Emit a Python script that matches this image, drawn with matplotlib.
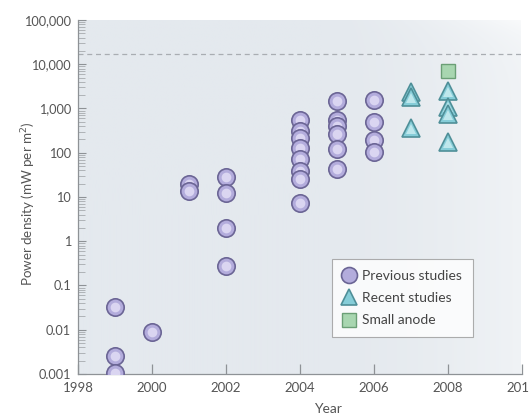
import numpy as np
import matplotlib.pyplot as plt
from matplotlib.ticker import FixedLocator, LogLocator, NullFormatter

plt.rcParams['font.family'] = ['Lato', 'DejaVu Sans']

# --- data ---
prev_years = [1999, 1999, 1999, 2000, 2001, 2001, 2002, 2002, 2002, 2002,
              2004, 2004, 2004, 2004, 2004, 2004, 2004, 2004,
              2005, 2005, 2005, 2005, 2005, 2005,
              2006, 2006, 2006, 2006]
prev_power = [0.033, 0.0026, 0.00105, 0.009, 20, 14, 29, 12.6, 2.0, 0.28,
              560, 316, 214, 131, 72, 38, 25, 7.5,
              1450, 560, 407, 264, 121, 43,
              1550, 485, 193, 102]

recent_years = [2007, 2007, 2007, 2008, 2008, 2008, 2008]
recent_power = [2300, 1780, 360, 2450, 1100, 750, 171]

anode_years = [2008]
anode_power = [6900]

limit_power = 17000

xticks = [1998, 2000, 2002, 2004, 2006, 2008, 2010]
yticks = [0.001, 0.01, 0.1, 1, 10, 100, 1000, 10000, 100000]
ytick_labels = ['0.001', '0.01', '0.1', '1', '10', '100', '1,000', '10,000', '100,000']

fig = plt.figure(figsize=(5.29, 4.18), dpi=100)
ax = fig.add_axes([0.1474, 0.1053, 0.8393, 0.8469])
ax.set_xlim(1998, 2010)
ax.set_yscale('log')
ax.set_ylim(0.001, 100000)

# soft panel background, brightening toward the right
nx, ny = 200, 100
gx = np.linspace(0, 1, nx)
gy = np.linspace(0, 1, ny)[:, None]
fade = np.clip((gx - 0.55) / 0.45, 0, 1) ** 1.6 * (0.55 + 0.45 * gy)
base = np.array([228, 233, 238]) / 255.0
img = base[None, None, :] + (1 - base)[None, None, :] * fade[..., None] * 0.8
img = np.clip(img, 0, 1)
ax.imshow(img, extent=[1998, 2010, 1e-3, 1e5], origin='lower',
          aspect='auto', zorder=0, interpolation='bilinear')
ax.set_xlim(1998, 2010)
ax.set_ylim(0.001, 100000)

ax.axhline(limit_power, color='#a9adb2', linestyle=(0, (4, 3)), linewidth=0.9, zorder=1)

z = 3
for xv, yv in zip(prev_years, prev_power):
    ax.plot(xv, yv, 'o', markersize=12.5, markerfacecolor='#b3acdc',
            markeredgecolor='#6b6595', markeredgewidth=1.2, zorder=z)
    ax.plot(xv, yv, 'o', markersize=7, markerfacecolor='#e4e0f7',
            markeredgewidth=0, alpha=0.8, zorder=z + 0.5)
    z += 1

for xv, yv in zip(recent_years, recent_power):
    ax.plot(xv, yv, '^', markersize=12.5, markerfacecolor='#86cdd8',
            markeredgecolor='#4f8f98', markeredgewidth=1.2, zorder=z)
    ax.plot(xv, yv - yv * 0.03, '^', markersize=6.5, markerfacecolor='#d2f0f3',
            markeredgewidth=0, alpha=0.75, zorder=z + 0.5)
    z += 1

for xv, yv in zip(anode_years, anode_power):
    ax.plot(xv, yv, 's', markersize=10, markerfacecolor='#a8d6b0',
            markeredgecolor='#6b9f76', markeredgewidth=1.0, zorder=z)

# legend proxies
h1, = ax.plot([], [], 'o', markersize=11.5, markerfacecolor='#b3acdc',
              markeredgecolor='#6b6595', markeredgewidth=1.2)
h2, = ax.plot([], [], '^', markersize=11.5, markerfacecolor='#86cdd8',
              markeredgecolor='#4f8f98', markeredgewidth=1.2)
h3, = ax.plot([], [], 's', markersize=9.5, markerfacecolor='#a8d6b0',
              markeredgecolor='#6b9f76', markeredgewidth=1.0)
leg = ax.legend([h1, h2, h3], ['Previous studies', 'Recent studies', 'Small anode'],
                loc='lower left', bbox_to_anchor=(0.572, 0.105), frameon=True,
                fancybox=False, fontsize=10, handlelength=1.0, handletextpad=0.45,
                borderpad=0.75, labelspacing=0.75, labelcolor='#444444',
                borderaxespad=0)
leg.get_frame().set_edgecolor('#9a9a9a')
leg.get_frame().set_linewidth(0.8)
leg.get_frame().set_facecolor('white')
leg.set_zorder(50)

# axes styling
for side in ['top', 'right']:
    ax.spines[side].set_visible(False)
for side in ['left', 'bottom']:
    ax.spines[side].set_color('#8e9296')
    ax.spines[side].set_linewidth(0.9)

ax.set_xticks(xticks)
ax.set_xticklabels([str(t) for t in xticks])
ax.yaxis.set_major_locator(FixedLocator(yticks))
ax.set_yticklabels(ytick_labels)
ax.yaxis.set_minor_locator(LogLocator(base=10, subs=np.arange(2, 10), numticks=20))
ax.yaxis.set_minor_formatter(NullFormatter())

ax.tick_params(axis='x', direction='in', length=7, width=0.9, color='#8e9296',
               labelsize=9.5, labelcolor='#555555', pad=6)
ax.tick_params(axis='y', which='major', direction='in', length=6, width=0.8,
               color='#8e9296', labelsize=9.2, labelcolor='#555555', pad=5)
ax.tick_params(axis='y', which='minor', direction='in', length=5, width=0.6,
               color='#a6aaae')

ax.set_xlabel('Year', fontsize=10, color='#555555')
ax.xaxis.set_label_coords(0.563, -0.082)
ax.set_ylabel('Power density (mW per m$^2$)', fontsize=9.6, color='#555555')
ax.yaxis.set_label_coords(-0.09, 0.48)

fig.savefig('out.png', dpi=100)
